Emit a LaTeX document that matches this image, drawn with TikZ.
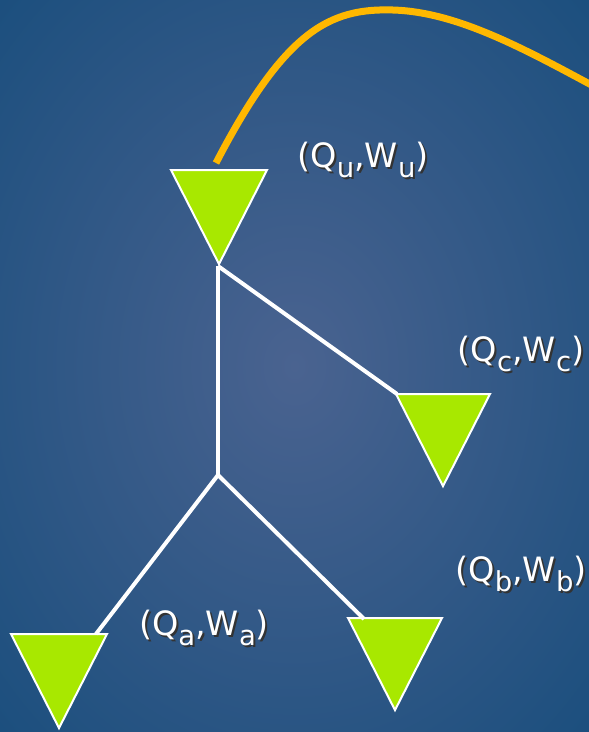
\documentclass[tikz,border=0pt]{standalone}
\usepackage{fontspec}
\setmainfont{DejaVu Sans}
\usetikzlibrary{calc}
\definecolor{bgin}{HTML}{4A6390}
\definecolor{bgout}{HTML}{1C4F7E}
\definecolor{lime}{HTML}{A8E800}
\definecolor{gold}{HTML}{FFB800}
\newcommand\qwlbl[1]{(Q\raisebox{-0.32em}{\scalebox{0.82}{#1}},W\raisebox{-0.32em}{\scalebox{0.82}{#1}})}
\tikzset{
  tri/.style={fill=lime,draw=white,line width=2pt,line join=miter},
  branch/.style={draw=white,line width=4pt},
  lbltxt/.style={text=white,font=\fontsize{33.5}{36}\selectfont,inner sep=0pt},
  lblshadow/.style={text=black!80,font=\fontsize{33.5}{36}\selectfont,inner sep=0pt},
}
\newcommand\trinode[4]{% name, left x, top y, width/height
  \coordinate (#1tl) at (#2,#3);
  \coordinate (#1tr) at ($(#2,#3)+(#4,0)$);
  \coordinate (#1ap) at ($(#2,#3)+(#4/2,#4*0.98)$);
  \draw[tri] (#1tl) -- (#1tr) -- (#1ap) -- cycle;
}
\begin{document}
\begin{tikzpicture}[x=1pt,y=-1pt]
  \useasboundingbox (0,0) rectangle (589,732);
  \shade[inner color=bgin,outer color=bgout] (-120,-150) rectangle (709,882);
  % orange curve
  \begin{scope}
    \clip (0,0) rectangle (589,732);
    \coordinate (cs) at (216,163);
    \coordinate (ce) at (610,95);
    \draw[gold,line width=7pt] (cs) .. controls (285,30) and (330,8) .. (393,10)
      .. controls (460,12) and (530,52) .. (ce);
  \end{scope}
  % triangles
  \trinode{u}{171}{170}{96}
  \trinode{c}{396}{394}{94}
  \trinode{a}{11}{634}{96}
  \trinode{b}{348}{618}{94}
  % branches
  \coordinate (j) at (218,475);
  \coordinate (jt) at (218,266);
  \coordinate (cend) at (397,394);
  \coordinate (aend) at (96,634);
  \coordinate (bend) at (364,619);
  \draw[branch] (jt) -- (j);
  \draw[branch] (jt) -- (cend);
  \draw[branch,line cap=butt] (j) -- (aend);
  \draw[branch] (j) -- (bend);
  % labels (with drop shadow)
  \foreach \n/\s/\x/\y in {lu/u/363/160, lc/c/521/354, lb/b/521/574, la/a/204/628}{
    \node[lblshadow] at (\x+2,\y+2) {\qwlbl{\s}};
    \node[lbltxt] (\n) at (\x,\y) {\qwlbl{\s}};
  }
\end{tikzpicture}
\end{document}
